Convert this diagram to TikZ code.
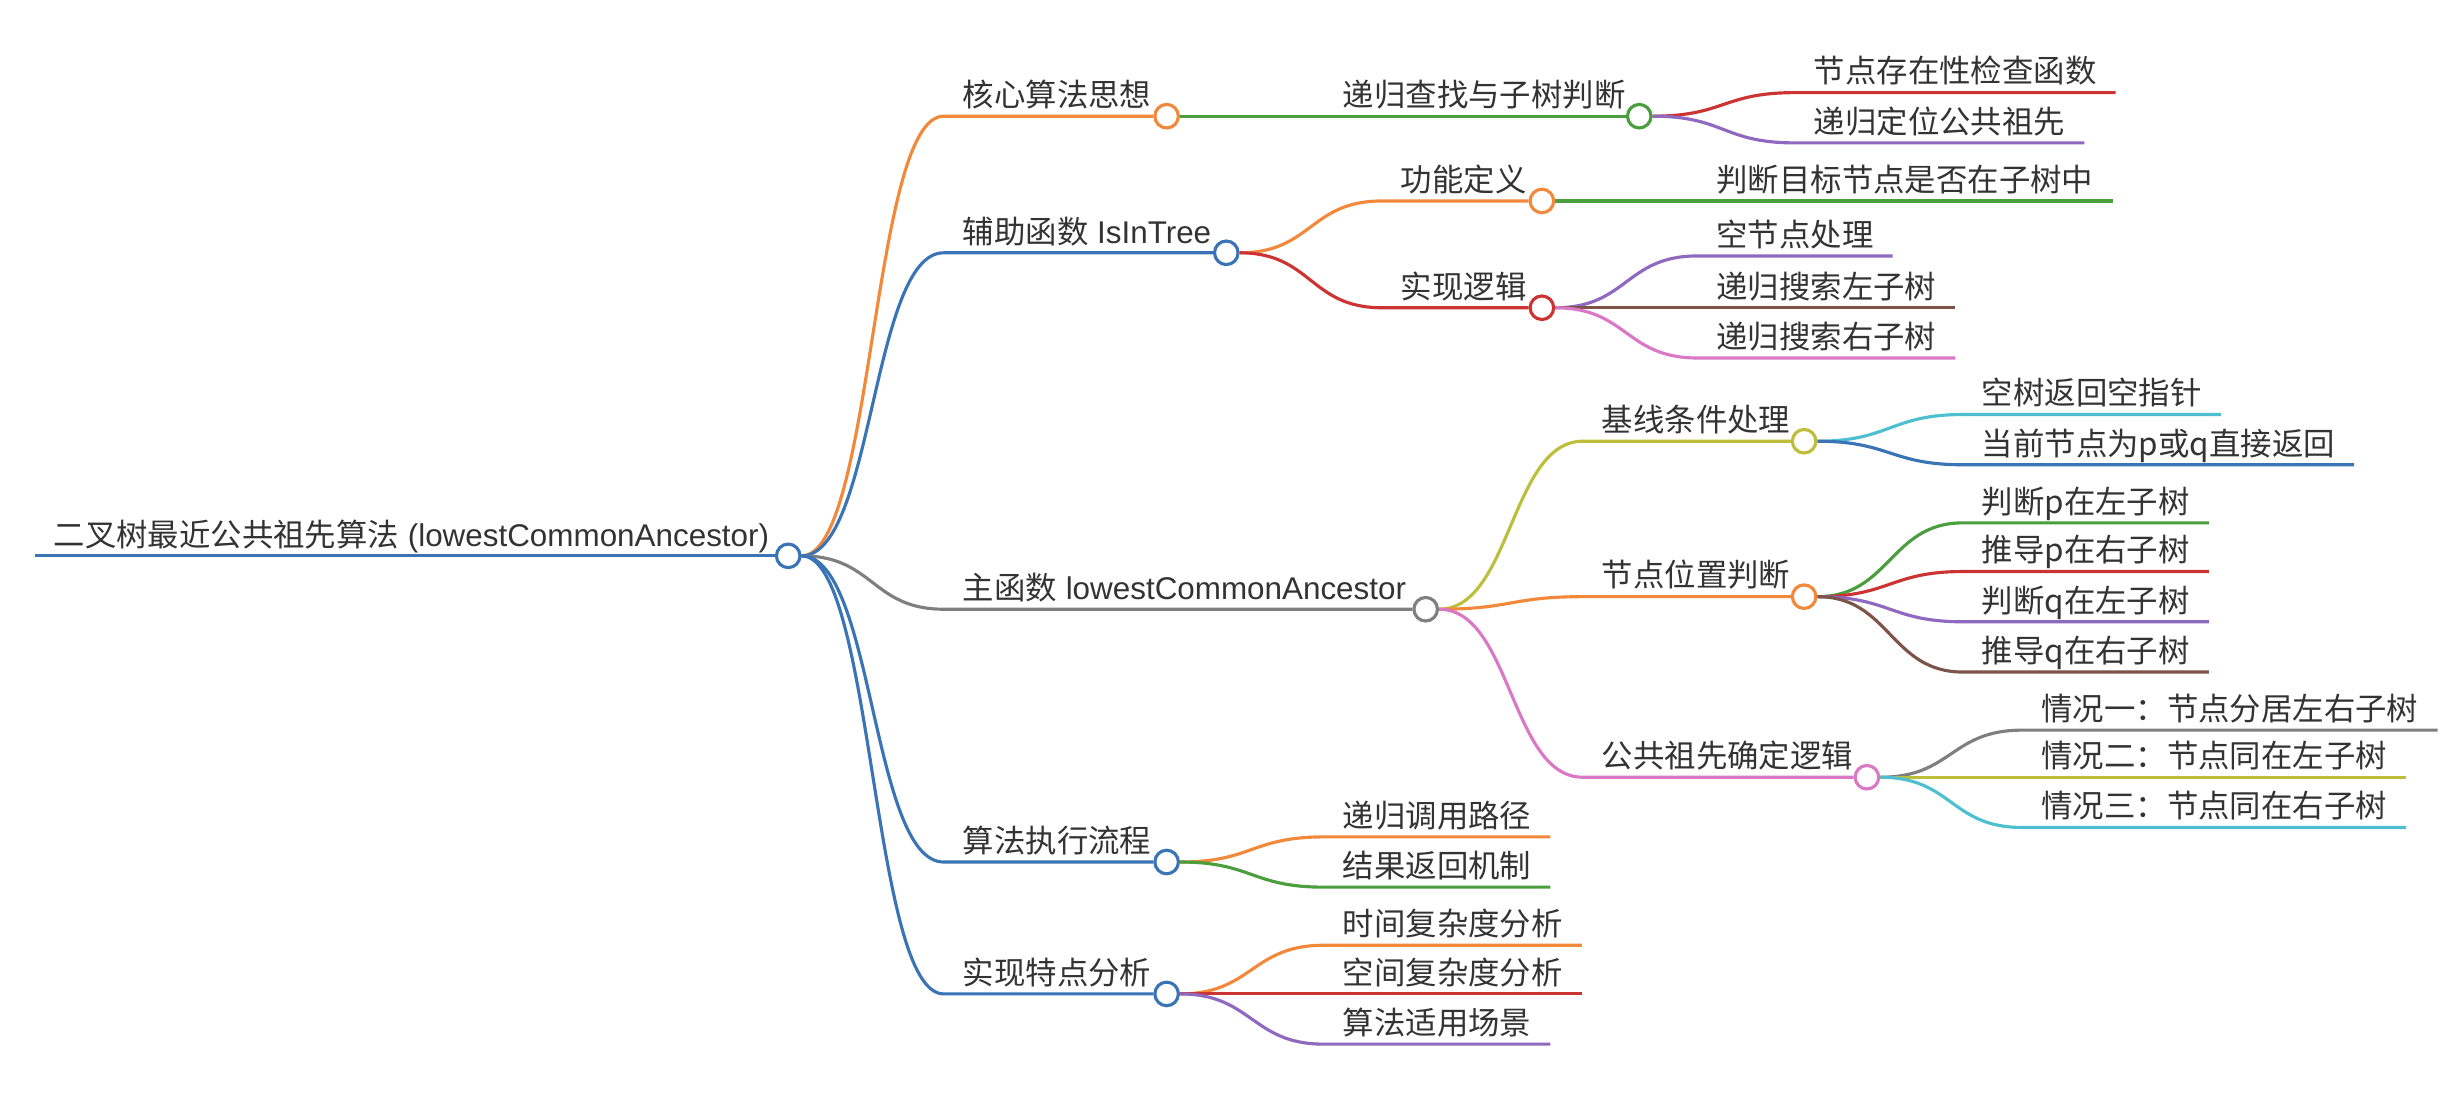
\documentclass[tikz,border=0pt]{standalone}
\usepackage{fontspec}
\usepackage{xcolor}
\usepackage{tikz}
\setmainfont{Noto Sans CJK SC}
\newfontfamily\latfont{Liberation Sans}
\newcommand{\lat}[1]{{\latfont #1}}
\definecolor{cBl}{HTML}{3A74B4}
\definecolor{cOr}{HTML}{F2883A}
\definecolor{cGr}{HTML}{4A9E3E}
\definecolor{cRd}{HTML}{CC3434}
\definecolor{cPu}{HTML}{8F68BF}
\definecolor{cBr}{HTML}{7D5448}
\definecolor{cPk}{HTML}{DB78C6}
\definecolor{cGy}{HTML}{7F7F7F}
\definecolor{cOl}{HTML}{BDBE3A}
\definecolor{cCy}{HTML}{4DBFD0}
\definecolor{cTx}{HTML}{333333}
\pgfdeclarelayer{bg}
\pgfsetlayers{bg,main}

\begin{document}
\begin{tikzpicture}[
  x=1pt,y=-1pt,
  lab/.style={anchor=south west,inner xsep=12pt,inner ysep=0pt,
    text height=16pt,text depth=6pt,text=cTx,font=\fontsize{20}{24}\selectfont},
  dot/.style={circle,draw=#1,fill=white,line width=2pt,minimum size=15pt,inner sep=0pt},
  br/.style={draw=#1,line width=2pt},
  cv/.style={to path={.. controls +(46,0) and +(-46,0) .. (\tikztotarget)}}
]
  \useasboundingbox (0,0) rectangle (1568,704);
  \node[lab] (root) at (22,354) {二叉树最近公共祖先算法\lat{ (lowestCommonAncestor)}};
  \node[dot=cBl] (rootO) at (502,354) {};

  \node[lab] (core) at (601,74) {核心算法思想};
  \node[dot=cOr] (coreO) at (743,74) {};
  \node[lab] (aux) at (601,161) {辅助函数\lat{ IsInTree}};
  \node[dot=cBl] (auxO) at (781,161) {};
  \node[lab] (main) at (601,388) {主函数\lat{ lowestCommonAncestor}};
  \node[dot=cGy] (mainO) at (908,388) {};
  \node[lab] (flow) at (601,549) {算法执行流程};
  \node[dot=cBl] (flowO) at (743,549) {};
  \node[lab] (feat) at (601,633) {实现特点分析};
  \node[dot=cBl] (featO) at (743,633) {};

  \node[lab] (search) at (843,74) {递归查找与子树判断};
  \node[dot=cGr] (searchO) at (1044,74) {};
  \node[lab] (def) at (880,128) {功能定义};
  \node[dot=cOr] (defO) at (982,128) {};
  \node[lab] (impl) at (880,196) {实现逻辑};
  \node[dot=cRd] (implO) at (982,196) {};
  \node[lab] (base) at (1008,281) {基线条件处理};
  \node[dot=cOl] (baseO) at (1149,281) {};
  \node[lab] (pos) at (1008,380) {节点位置判断};
  \node[dot=cOr] (posO) at (1149,380) {};
  \node[lab] (lca) at (1008,495) {公共祖先确定逻辑};
  \node[dot=cPk] (lcaO) at (1189,495) {};
  \node[lab] (path) at (843,533) {递归调用路径};
  \node[lab] (ret) at (843,565) {结果返回机制};
  \node[lab] (time) at (843,602) {时间复杂度分析};
  \node[lab] (spc) at (843,633) {空间复杂度分析};
  \node[lab] (use) at (843,665) {算法适用场景};

  \node[lab] (exist) at (1143,59) {节点存在性检查函数};
  \node[lab] (locate) at (1143,91) {递归定位公共祖先};
  \node[lab] (inSub) at (1081,128) {判断目标节点是否在子树中};
  \node[lab] (nul) at (1081,163) {空节点处理};
  \node[lab] (srchL) at (1081,196) {递归搜索左子树};
  \node[lab] (srchR) at (1081,228) {递归搜索右子树};
  \node[lab] (emp) at (1250,264) {空树返回空指针};
  \node[lab] (hit) at (1250,296) {当前节点为p或q直接返回};
  \node[lab] (pL) at (1250,333) {判断p在左子树};
  \node[lab] (pR) at (1250,364) {推导p在右子树};
  \node[lab] (qL) at (1250,396) {判断q在左子树};
  \node[lab] (qR) at (1250,428) {推导q在右子树};
  \node[lab] (c1) at (1288,465) {情况一：节点分居左右子树};
  \node[lab] (c2) at (1288,495) {情况二：节点同在左子树};
  \node[lab] (c3) at (1288,527) {情况三：节点同在右子树};

  \begin{pgfonlayer}{bg}
    \draw[br=cBl] (root.south west) -- (rootO.west);
    \draw[br=cOr] (rootO.east) to[cv] (core.south west) -- (coreO.west);
    \draw[br=cBl] (rootO.east) to[cv] (aux.south west) -- (auxO.west);
    \draw[br=cGy] (rootO.east) to[cv] (main.south west) -- (mainO.west);
    \draw[br=cBl] (rootO.east) to[cv] (flow.south west) -- (flowO.west);
    \draw[br=cBl] (rootO.east) to[cv] (feat.south west) -- (featO.west);

    \draw[br=cGr] (coreO.east) to[cv] (search.south west) -- (searchO.west);
    \draw[br=cOr] (auxO.east) to[cv] (def.south west) -- (defO.west);
    \draw[br=cRd] (auxO.east) to[cv] (impl.south west) -- (implO.west);
    \draw[br=cOl] (mainO.east) to[cv] (base.south west) -- (baseO.west);
    \draw[br=cOr] (mainO.east) to[cv] (pos.south west) -- (posO.west);
    \draw[br=cPk] (mainO.east) to[cv] (lca.south west) -- (lcaO.west);
    \draw[br=cOr] (flowO.east) to[cv] (path.south west) -- (path.south east);
    \draw[br=cGr] (flowO.east) to[cv] (ret.south west) -- (ret.south east);
    \draw[br=cOr] (featO.east) to[cv] (time.south west) -- (time.south east);
    \draw[br=cRd] (featO.east) to[cv] (spc.south west) -- (spc.south east);
    \draw[br=cPu] (featO.east) to[cv] (use.south west) -- (use.south east);

    \draw[br=cRd] (searchO.east) to[cv] (exist.south west) -- (exist.south east);
    \draw[br=cPu] (searchO.east) to[cv] (locate.south west) -- (locate.south east);
    \draw[br=cGr] (defO.east) to[cv] (inSub.south west) -- (inSub.south east);
    \draw[br=cPu] (implO.east) to[cv] (nul.south west) -- (nul.south east);
    \draw[br=cBr] (implO.east) to[cv] (srchL.south west) -- (srchL.south east);
    \draw[br=cPk] (implO.east) to[cv] (srchR.south west) -- (srchR.south east);
    \draw[br=cCy] (baseO.east) to[cv] (emp.south west) -- (emp.south east);
    \draw[br=cBl] (baseO.east) to[cv] (hit.south west) -- (hit.south east);
    \draw[br=cGr] (posO.east) to[cv] (pL.south west) -- (pL.south east);
    \draw[br=cRd] (posO.east) to[cv] (pR.south west) -- (pR.south east);
    \draw[br=cPu] (posO.east) to[cv] (qL.south west) -- (qL.south east);
    \draw[br=cBr] (posO.east) to[cv] (qR.south west) -- (qR.south east);
    \draw[br=cGy] (lcaO.east) to[cv] (c1.south west) -- (c1.south east);
    \draw[br=cOl] (lcaO.east) to[cv] (c2.south west) -- (c2.south east);
    \draw[br=cCy] (lcaO.east) to[cv] (c3.south west) -- (c3.south east);
  \end{pgfonlayer}
\end{tikzpicture}
\end{document}
